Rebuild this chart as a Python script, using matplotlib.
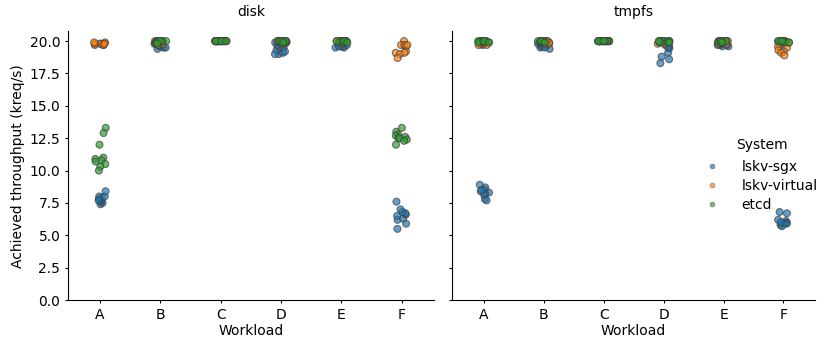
import numpy as np
import pandas as pd
import matplotlib
matplotlib.use("Agg")
import matplotlib.pyplot as plt
import seaborn as sns

workloads = ["A", "B", "C", "D", "E", "F"]
systems = ["lskv-sgx", "lskv-virtual", "etcd"]
storages = ["disk", "tmpfs"]

# throughput (kreq/s) per storage -> system -> workload
disk_sgx = {
    "A": [7.4, 7.5, 7.6, 7.7, 7.8, 7.9, 8.0, 8.0, 8.4, 7.7],
    "B": [19.4, 19.5, 19.6, 19.7, 19.8, 19.9, 19.6, 19.8, 19.5, 19.9],
    "C": [20.0, 20.0, 20.0, 20.0, 20.0, 20.0, 20.0, 20.0, 20.0, 20.0],
    "D": [19.0, 19.1, 19.3, 19.5, 19.6, 19.7, 19.8, 19.9, 19.2, 19.0],
    "E": [19.5, 19.6, 19.7, 19.8, 19.9, 19.6, 19.5, 19.7, 20.0, 19.6],
    "F": [5.5, 5.9, 6.2, 6.3, 6.5, 6.6, 6.7, 6.8, 7.0, 7.6],
}
disk_virtual = {
    "A": [19.7, 19.8, 19.8, 19.9, 19.7, 19.8, 19.9, 19.8, 19.7, 19.8],
    "B": [19.8, 19.9, 20.0, 20.0, 19.9, 19.8, 20.0, 19.9, 19.7, 20.0],
    "C": [20.0, 20.0, 20.0, 20.0, 20.0, 20.0, 20.0, 20.0, 20.0, 20.0],
    "D": [19.9, 20.0, 20.0, 19.9, 20.0, 19.8, 20.0, 19.9, 20.0, 20.0],
    "E": [19.9, 20.0, 20.0, 19.9, 20.0, 19.8, 20.0, 19.9, 20.0, 20.0],
    "F": [20.0, 19.7, 19.7, 19.6, 19.7, 19.2, 19.1, 19.0, 19.1, 18.7],
}
disk_etcd = {
    "A": [13.3, 12.9, 12.0, 11.0, 10.9, 10.8, 10.7, 10.5, 10.3, 10.0],
    "B": [20.0, 19.9, 20.0, 19.8, 20.0, 19.9, 20.0, 19.9, 20.0, 19.8],
    "C": [20.0, 20.0, 20.0, 20.0, 20.0, 20.0, 20.0, 20.0, 20.0, 20.0],
    "D": [20.0, 20.0, 19.9, 20.0, 19.8, 20.0, 19.9, 20.0, 20.0, 19.9],
    "E": [20.0, 20.0, 19.9, 20.0, 20.0, 19.9, 20.0, 20.0, 20.0, 19.9],
    "F": [13.3, 13.0, 12.8, 12.7, 12.6, 12.5, 12.5, 12.4, 12.3, 12.0],
}
tmpfs_sgx = {
    "A": [8.9, 8.7, 8.5, 8.4, 8.3, 8.2, 8.1, 7.8, 7.7, 8.5],
    "B": [19.4, 19.5, 19.6, 19.7, 19.8, 19.9, 19.6, 19.8, 19.5, 19.9],
    "C": [20.0, 20.0, 20.0, 20.0, 20.0, 20.0, 20.0, 20.0, 20.0, 20.0],
    "D": [19.45, 19.1, 18.8, 18.6, 18.3, 19.6, 19.8, 19.9, 19.7, 19.5],
    "E": [19.6, 19.7, 19.8, 19.9, 19.6, 19.7, 19.8, 19.9, 20.0, 19.7],
    "F": [6.8, 6.7, 6.2, 6.1, 6.0, 5.9, 5.8, 5.7, 5.9, 6.0],
}
tmpfs_virtual = {
    "A": [19.7, 19.8, 19.8, 19.9, 19.7, 19.8, 19.9, 19.8, 19.7, 20.0],
    "B": [19.8, 19.9, 20.0, 20.0, 19.9, 19.8, 20.0, 19.9, 19.9, 20.0],
    "C": [20.0, 20.0, 20.0, 20.0, 20.0, 20.0, 20.0, 20.0, 20.0, 20.0],
    "D": [20.0, 19.9, 20.0, 19.8, 20.0, 19.9, 20.0, 19.9, 20.0, 19.8],
    "E": [20.0, 19.9, 20.0, 19.8, 20.0, 19.9, 20.0, 19.9, 20.0, 19.8],
    "F": [20.0, 19.8, 19.8, 19.6, 19.5, 19.3, 19.2, 19.1, 18.9, 19.9],
}
tmpfs_etcd = {
    "A": [20.0, 20.0, 19.9, 20.0, 20.0, 19.9, 20.0, 20.0, 20.0, 19.9],
    "B": [20.0, 19.9, 20.0, 20.0, 20.0, 19.9, 20.0, 20.0, 20.0, 19.9],
    "C": [20.0, 20.0, 20.0, 20.0, 20.0, 20.0, 20.0, 20.0, 20.0, 20.0],
    "D": [20.0, 20.0, 19.9, 20.0, 20.0, 19.9, 20.0, 20.0, 20.0, 19.9],
    "E": [20.0, 20.0, 19.9, 20.0, 20.0, 19.9, 20.0, 20.0, 20.0, 19.9],
    "F": [20.0, 20.0, 19.9, 20.0, 20.0, 19.9, 20.0, 20.0, 20.0, 19.9],
}

tables = {
    ("disk", "lskv-sgx"): disk_sgx,
    ("disk", "lskv-virtual"): disk_virtual,
    ("disk", "etcd"): disk_etcd,
    ("tmpfs", "lskv-sgx"): tmpfs_sgx,
    ("tmpfs", "lskv-virtual"): tmpfs_virtual,
    ("tmpfs", "etcd"): tmpfs_etcd,
}
rows = []
for (st, sy), d in tables.items():
    for w in workloads:
        for v in d[w]:
            rows.append({"storage": st, "System": sy, "Workload": w, "tput": v})
df = pd.DataFrame(rows)

plt.rcParams["font.family"] = ["DejaVu Sans"]
fig = plt.figure(figsize=(8.31, 3.53), dpi=100)
ax1 = fig.add_axes([0.0818, 0.150, 0.440, 0.761])
ax2 = fig.add_axes([0.544, 0.150, 0.437, 0.761], sharey=ax1)
palette = dict(zip(systems, ["#1f77b4", "#ff7f0e", "#2ca02c"]))

np.random.seed(0)
for ax, st in zip([ax1, ax2], storages):
    sub = df[df["storage"] == st]
    sns.stripplot(data=sub, x="Workload", y="tput", hue="System",
                  order=workloads, hue_order=systems, palette=palette,
                  ax=ax, jitter=0.1, size=5, alpha=0.7,
                  edgecolor="0.25", linewidth=0.8, legend=False)
    ax.set_title(st, fontsize=10, pad=11)
    ax.set_xlabel("Workload", fontsize=10, labelpad=2)
    ax.tick_params(labelsize=10, length=2.5, pad=3)
    ax.spines["top"].set_visible(False)
    ax.spines["right"].set_visible(False)
    ax.set_xlim(-0.53, 5.53)

ax1.set_ylim(0, 20.75)
ax1.set_yticks(np.arange(0, 20.1, 2.5))
ax1.set_ylabel("Achieved throughput (kreq/s)", fontsize=10, labelpad=3)
ax2.set_ylabel("")
ax2.tick_params(labelleft=False)

handles = [plt.Line2D([], [], marker="o", linestyle="", markersize=3.5,
                      markerfacecolor=palette[s], markeredgecolor="0.4",
                      markeredgewidth=0.5, alpha=0.7) for s in systems]
leg = fig.legend(handles, systems, title="System", loc="center left",
                 bbox_to_anchor=(0.834, 0.505), frameon=False, fontsize=10,
                 title_fontsize=10, handletextpad=1.6, labelspacing=0.35,
                 handlelength=1.0)
leg._legend_box.sep = 6

fig.savefig("out.png", dpi=100)
